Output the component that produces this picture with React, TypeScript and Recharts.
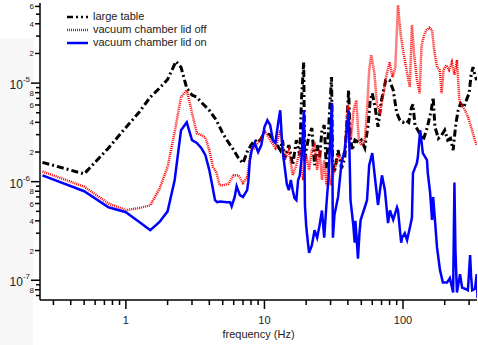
import React from "react";
import { LineChart, Line, XAxis, YAxis } from "recharts";

// amplitude in units of 1e-6, frequency in Hz
const largeTable: [number, number][] = [
  [0.25, 1.57], [0.5, 1.2], [0.75, 2.2], [1, 3.55], [1.25, 5.1], [1.5, 7.2], [1.75, 8.9],
  [2, 10.9], [2.3, 16.6], [2.5, 14.5], [2.75, 8.9], [3, 7.55], [3.25, 7.2], [3.5, 6.4],
  [4, 5.3], [4.5, 4.2], [5, 3.1], [5.5, 2.5], [6, 2.09], [6.5, 1.73], [7, 1.54], [7.5, 2.0],
  [8, 2.35], [8.5, 2.64], [9, 2.5], [9.5, 2.75], [10, 3.2], [11, 2.97], [12, 2.5], [13, 2.09],
  [13.5, 2.64], [14, 1.73], [15, 2.35], [16, 1.47], [17, 2.64], [18, 1.86], [18.5, 6.7],
  [19.2, 16.3], [19.5, 1.65], [20, 2.09], [21, 2.97], [22, 3.5], [23, 1.47], [24, 2.35],
  [25, 1.73], [26, 3.33], [27, 3.75], [28, 1.37], [29, 3.33], [30.5, 11.5], [31, 1.65],
  [32, 1.24], [34, 2.09], [36, 1.37], [38, 1.73], [40.5, 8.5], [41.5, 2.97], [43, 2.09],
  [45, 2.64], [48, 2.5], [50, 2.64], [53, 2.2], [56, 3.75], [58, 6.7], [60, 7.9], [63, 5.6],
  [66, 3.6], [70, 6.7], [75, 10.7], [80, 10.7], [85, 8.5], [90, 5.0], [95, 4.2], [100, 4.0],
  [105, 4.2], [110, 4.0], [115, 5.6], [118, 6.1], [122, 3.75], [130, 3.2], [140, 2.64],
  [150, 3.6], [160, 5.3], [165, 7.2], [170, 3.6], [180, 2.75], [190, 2.97], [200, 3.33],
  [210, 2.64], [220, 2.75], [230, 2.09], [240, 3.75], [250, 5.3], [260, 6.2], [275, 5.7],
  [290, 7.0], [300, 7.9], [310, 12.1], [320, 14.5], [330, 12.1], [340, 10.7],
];

const lidOff: [number, number][] = [
  [0.25, 1.27], [0.5, 0.89], [0.75, 0.6], [1, 0.514], [1.25, 0.54], [1.5, 0.577], [1.75, 0.85],
  [2, 1.41], [2.25, 3.2], [2.5, 7.2], [2.75, 8.5], [3, 5.0], [3.25, 3.1], [3.5, 2.97],
  [3.75, 2.8], [4, 2.09], [4.25, 1.41], [4.5, 1.24], [4.75, 0.92], [5, 0.92], [5.5, 0.95],
  [6, 1.16], [6.5, 1.16], [7, 0.97], [7.5, 1.1], [8, 2.09], [8.5, 2.2], [9, 2.5], [9.5, 2.75],
  [10, 3.33], [11, 2.64], [12, 2.2], [13, 3.33], [14, 1.65], [15, 2.09], [16, 1.16], [17, 1.47],
  [18, 2.09], [19, 1.04], [20, 1.86], [21, 1.31], [22, 2.09], [23, 2.35], [24, 1.31], [25, 2.09],
  [26, 1.04], [27, 1.65], [28, 0.92], [29, 1.47], [30, 0.92], [32, 1.31], [34, 1.86], [36, 1.65],
  [38, 2.09], [40, 6.0], [42, 2.64], [44, 5.3], [46, 6.7], [48, 2.64], [50, 2.35], [53, 2.64],
  [55, 5.3], [57, 13.6], [59, 19.2], [62, 13.0], [65, 6.0], [68, 5.1], [72, 7.55], [76, 12.1],
  [80, 16.3], [84, 11.5], [88, 14.5], [92, 62], [96, 32], [100, 21.6], [106, 13.6], [112, 9.1],
  [116, 38.8], [120, 20.2], [126, 10.7], [132, 7.9], [136, 24], [142, 30.7], [148, 34.5],
  [155, 36.5], [162, 34.5], [168, 21.6], [176, 14.5], [184, 13.6], [190, 7.9], [196, 13.6],
  [205, 15.2], [215, 13.6], [225, 16.3], [235, 12.1], [245, 17.1], [255, 6.7], [265, 6.0],
  [280, 5.3], [295, 4.5], [310, 3.6], [330, 2.64], [340, 2.35],
];

const lidOn: [number, number][] = [
  [0.25, 1.16], [0.5, 0.8], [0.75, 0.55], [1, 0.49], [1.25, 0.39], [1.5, 0.322], [1.75, 0.39],
  [2, 0.5], [2.25, 1.04], [2.5, 3.33], [2.75, 4.0], [3, 2.64], [3.25, 2.47], [3.5, 2.2],
  [3.75, 1.86], [4, 1.31], [4.2, 0.92], [4.4, 0.65], [4.55, 0.62], [4.8, 0.63], [5.35, 0.62],
  [5.65, 0.62], [5.8, 0.56], [6.1, 0.7], [6.3, 0.9], [6.65, 0.73], [7, 0.7], [7.5, 0.82],
  [7.65, 1.0], [7.85, 1.65], [8.1, 2.09], [8.5, 2.47], [9, 2.0], [9.5, 2.35], [10, 3.58],
  [10.5, 4.2], [11, 3.75], [11.5, 2.64], [12, 2.47], [12.5, 3.75], [13, 5.3], [13.5, 2.09],
  [14, 1.41], [14.5, 0.95], [15, 0.82], [15.5, 1.04], [16, 0.82], [16.5, 0.68], [17, 0.65],
  [17.5, 1.04], [18, 1.16], [18.5, 1.65], [19.3, 5.3], [19.6, 0.58], [20, 0.36], [20.5, 0.255],
  [21, 0.19], [22, 0.227], [23, 0.322], [24, 0.27], [25, 0.36], [26, 0.51], [27, 0.27],
  [28, 0.58], [29, 1.09], [30.7, 6.3], [31.2, 0.27], [32, 0.46], [34, 0.7], [36, 1.55],
  [38, 2.09], [40.5, 5.3], [41.8, 0.65], [43.8, 0.36], [44.8, 0.24], [45.3, 0.4], [46.4, 0.255],
  [47.3, 0.165], [48.5, 0.3], [49.5, 0.41], [53, 0.55], [55, 0.65], [57, 1.47], [60, 1.95],
  [63, 1.04], [66, 0.58], [70.5, 1.16], [74, 0.82], [78, 0.38], [80.5, 0.51], [85, 0.41],
  [90.5, 0.55], [92, 0.514], [97, 0.24], [98.5, 0.27], [103, 0.3], [107, 0.255], [112, 0.34],
  [116, 0.43], [118, 1.22], [126, 1.55], [128, 1.78], [133, 3.33], [135, 2.8], [139, 1.95],
  [149, 1.65], [151, 1.22], [157, 0.77], [162, 0.41], [165, 0.7], [170, 0.41], [176, 0.215],
  [185, 0.126], [194, 0.095], [208, 0.095], [218, 0.105], [226, 0.084], [230, 0.075],
  [235, 0.98], [239, 0.2], [245, 0.075], [258, 0.115], [267, 0.084], [280, 0.082], [294, 0.079],
  [305, 0.18], [310, 0.11], [316, 0.079], [331, 0.082], [340, 0.115], [345, 0.066],
];

const xTicks = [
  0.3, 0.4, 0.5, 0.6, 0.7, 0.8, 0.9, 1, 2, 3, 4, 5, 6, 7, 8, 9, 10,
  20, 30, 40, 50, 60, 70, 80, 90, 100, 200, 300,
];
const yTicks = [
  7e-8, 8e-8, 9e-8, 1e-7, 2e-7, 3e-7, 4e-7, 5e-7, 6e-7, 7e-7, 8e-7, 9e-7,
  1e-6, 2e-6, 3e-6, 4e-6, 5e-6, 6e-6, 7e-6, 8e-6, 9e-6, 1e-5, 2e-5, 3e-5, 4e-5, 5e-5, 6e-5,
];

const FONT = "'Liberation Sans', Arial, Helvetica, sans-serif";
const BLACK_DASH = "7 3 2 3";
const RED_DOTS = "1 1";

const toPoints = (rows: [number, number][]) => rows.map(([f, v]) => ({ f, v: v * 1e-6 }));

function decade(v: number) {
  const e = Math.floor(Math.log10(v) + 1e-9);
  return { e, m: Math.round(v / Math.pow(10, e)) };
}

function XTick(props: any) {
  const { x, y, payload } = props;
  const { m } = decade(payload.value);
  const major = m === 1;
  return (
    <g>
      <line x1={x} x2={x} y1={y} y2={y + (major ? 9 : 5)} stroke="#000" strokeWidth={1.5} />
      {major && (
        <text x={x} y={y + 24} textAnchor="middle" fontSize={11} fill="#222" fontFamily={FONT}>
          {payload.value}
        </text>
      )}
    </g>
  );
}

function YTick(props: any) {
  const { x, y, payload } = props;
  const { e, m } = decade(payload.value);
  const major = m === 1;
  const labeled = !major && m % 2 === 0;
  const len = major ? 9 : labeled ? 5 : 4;
  return (
    <g>
      <line x1={x - len} x2={x} y1={y} y2={y} stroke="#000" strokeWidth={1.5} />
      {major && (
        <text x={x - 10} y={y + 6} textAnchor="end" fontSize={12} fill="#222" fontFamily={FONT}>
          10
          <tspan dy={-7} fontSize={8}>{e}</tspan>
        </text>
      )}
      {labeled && (
        <text x={x - 6} y={y + 3} textAnchor="end" fontSize={8} fill="#222" fontFamily={FONT}>
          {m}
        </text>
      )}
    </g>
  );
}

const legendRows = [
  { name: "large table", color: "#000", dash: "6 3 2 3 2 3" },
  { name: "vacuum chamber lid off", color: "#f00", dash: RED_DOTS },
  { name: "vacuum chamber lid on", color: "#00f", dash: undefined },
];

export default function App() {
  return (
    <div style={{ position: "absolute", left: 0, top: 0, width: 478, height: 345, background: "#fff" }}>
      <div style={{ position: "absolute", left: 0, top: 38, width: 33, height: 307, background: "#f7f7f7" }} />
      <LineChart
        width={478}
        height={345}
        margin={{ top: 3, right: 1, bottom: 0, left: 0 }}
        style={{ position: "absolute", left: 0, top: 0 }}
      >
        <XAxis
          dataKey="f"
          type="number"
          scale="log"
          domain={[0.24, 342]}
          allowDataOverflow
          ticks={xTicks}
          interval={0}
          height={45}
          tickSize={0}
          tickMargin={0}
          tickLine={false}
          tick={<XTick />}
          axisLine={{ stroke: "#000", strokeWidth: 1.5 }}
          label={{
            value: "frequency (Hz)",
            position: "insideBottom",
            offset: 7,
            fill: "#222",
            fontSize: 11,
            fontFamily: FONT,
          }}
        />
        <YAxis
          dataKey="v"
          type="number"
          scale="log"
          domain={[6.3e-8, 6.5e-5]}
          allowDataOverflow
          ticks={yTicks}
          interval={0}
          width={40}
          tickSize={0}
          tickMargin={0}
          tickLine={false}
          tick={<YTick />}
          axisLine={{ stroke: "#000", strokeWidth: 1.5 }}
        />
        <Line
          data={toPoints(largeTable)}
          dataKey="v"
          stroke="#000"
          strokeWidth={3}
          strokeDasharray={BLACK_DASH}
          dot={false}
          isAnimationActive={false}
        />
        <Line
          data={toPoints(lidOff)}
          dataKey="v"
          stroke="#f00"
          strokeWidth={2.5}
          strokeDasharray={RED_DOTS}
          dot={false}
          isAnimationActive={false}
        />
        <Line
          data={toPoints(lidOn)}
          dataKey="v"
          stroke="#00f"
          strokeWidth={2.5}
          dot={false}
          isAnimationActive={false}
        />
      </LineChart>
      <div style={{ position: "absolute", left: 67, top: 10, fontFamily: FONT, fontSize: 11, color: "#222" }}>
        {legendRows.map((r) => (
          <div key={r.name} style={{ display: "flex", alignItems: "center", height: 13 }}>
            <svg width={21} height={6}>
              <line x1={0} x2={21} y1={3} y2={3} stroke={r.color} strokeWidth={2.5} strokeDasharray={r.dash} />
            </svg>
            <span style={{ marginLeft: 5, lineHeight: "13px" }}>{r.name}</span>
          </div>
        ))}
      </div>
    </div>
  );
}
